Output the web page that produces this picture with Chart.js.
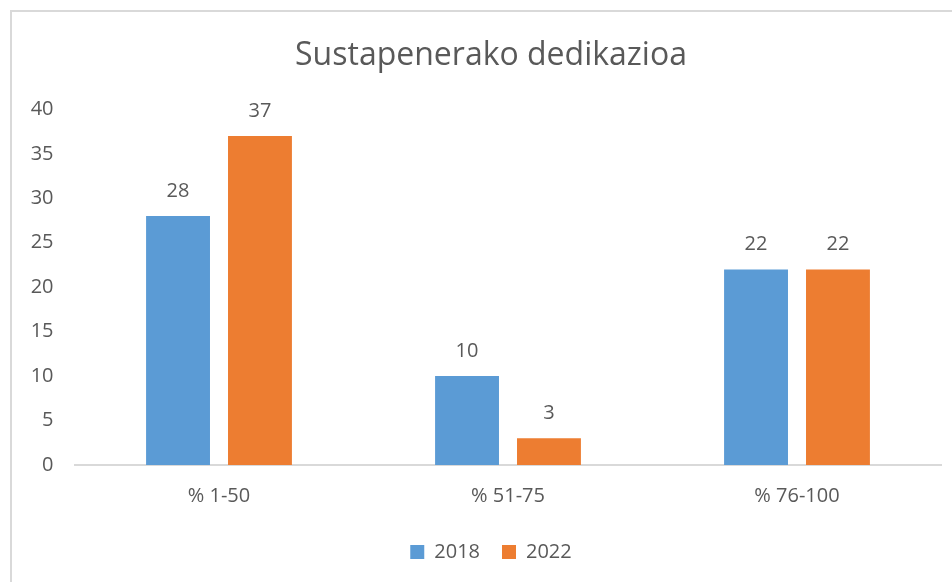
<!DOCTYPE html>
<html>
<head>
<meta charset="utf-8">
<script src="https://cdn.jsdelivr.net/npm/chart.js@4/dist/chart.umd.min.js"></script>
<style>
  html, body { margin: 0; padding: 0; background: #fff; overflow: hidden; width: 952px; height: 582px; }
  #marco { position: absolute; left: 10px; top: 10px; width: 970px; height: 600px;
           border-left: 2px solid #d9d9d9; border-top: 2px solid #d9d9d9; }
  #grafico { position: absolute; left: 0; top: 0; }
</style>
</head>
<body>
<div id="marco"><canvas id="grafico" width="958" height="572"></canvas></div>
<script>
// datos del gráfico
const categorias = ['% 1-50', '% 51-75', '% 76-100'];
const serie2018 = [28, 10, 22];
const serie2022 = [37, 3, 22];
const ticksY = [0, 5, 10, 15, 20, 25, 30, 35, 40];

const gris = '#595959';
const fuente = '"Open Sans", "Noto Sans", sans-serif';

// etiquetas encima de cada barra
const etiquetas = {
  id: 'etiquetas',
  afterDatasetsDraw(chart) {
    const ctx = chart.ctx;
    ctx.save();
    ctx.fillStyle = gris;
    ctx.font = '20px ' + fuente;
    ctx.textAlign = 'center';
    ctx.textBaseline = 'alphabetic';
    chart.data.datasets.forEach((ds, i) => {
      chart.getDatasetMeta(i).data.forEach((bar, j) => {
        ctx.fillText(ds.data[j], bar.x, bar.y - 19);
      });
    });
    ctx.restore();
  }
};

const ctx = document.getElementById('grafico').getContext('2d');
new Chart(ctx, {
  type: 'bar',
  data: {
    labels: categorias,
    datasets: [
      { label: '2018', data: serie2018, backgroundColor: '#5B9BD5', borderWidth: 0,
        categoryPercentage: 0.567, barPercentage: 0.78 },
      { label: '2022', data: serie2022, backgroundColor: '#ED7D31', borderWidth: 0,
        categoryPercentage: 0.567, barPercentage: 0.78 }
    ]
  },
  options: {
    responsive: false,
    animation: false,
    layout: { padding: { left: 0, right: 0, top: 0, bottom: 12 } },
    scales: {
      x: {
        afterFit: (scale) => { scale.height = 55; },
        grid: { display: false, drawTicks: false },
        border: { display: true, color: '#d9d9d9', width: 2 },
        ticks: { color: gris, font: { size: 20, family: fuente }, padding: 19 }
      },
      y: {
        min: 0, max: 40,
        afterBuildTicks: (scale) => { scale.ticks = ticksY.map(v => ({ value: v })); },
        afterFit: (scale) => { scale.width = 62.5; },
        grid: { display: false, drawTicks: false },
        border: { display: false },
        ticks: { color: gris, font: { size: 20, family: fuente }, padding: 21 }
      },
      // eje vacío a la derecha para dejar el margen sin mover el título
      derecha: {
        position: 'right',
        afterFit: (scale) => { scale.width = 28.5; },
        grid: { display: false, drawTicks: false },
        border: { display: false },
        ticks: { display: false }
      }
    },
    plugins: {
      title: { display: true, text: 'Sustapenerako dedikazioa', color: gris,
               font: { size: 32, weight: 'normal', family: fuente },
               padding: { top: 25, bottom: 34 } },
      legend: { position: 'bottom',
                labels: { color: gris, font: { size: 20, family: fuente },
                          boxWidth: 14, boxHeight: 14, padding: 22 } },
      tooltip: { enabled: false }
    }
  },
  plugins: [etiquetas]
});
</script>
</body>
</html>
